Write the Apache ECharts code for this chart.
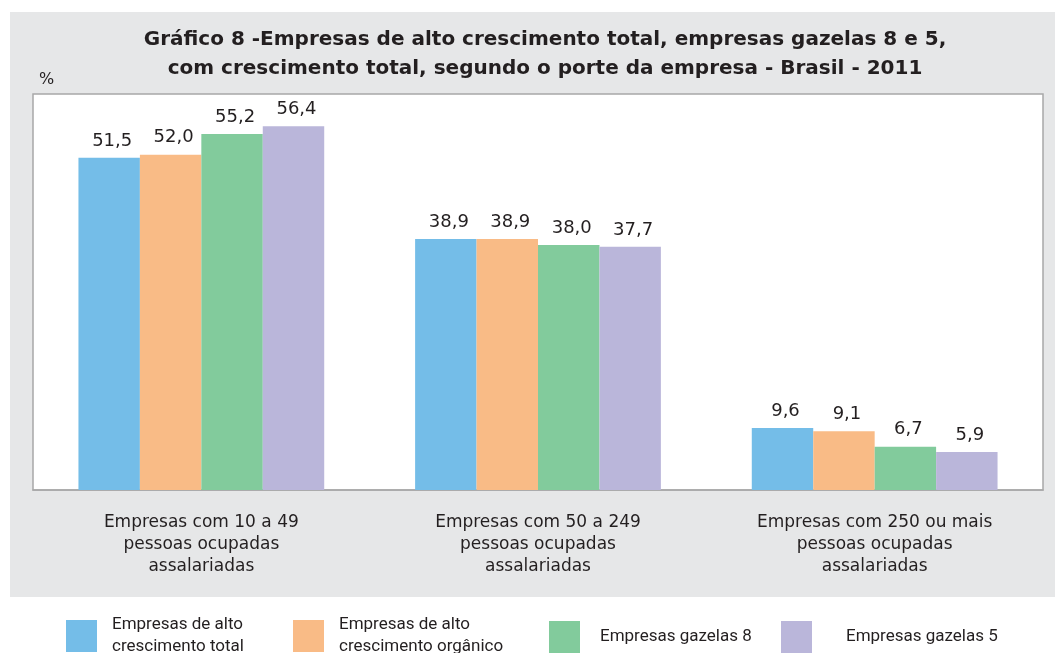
<!DOCTYPE html>
<html>
<head>
<meta charset="utf-8">
<script src="https://cdn.jsdelivr.net/npm/echarts@6/dist/echarts.min.js"></script>
<style>
  html, body { margin: 0; padding: 0; background: #fff; }
  #chart { width: 1055px; height: 653px; }
</style>
</head>
<body>
<div id="chart"></div>
<script>
  // categorias (porte da empresa)
  var categories = [
    'Empresas com 10 a 49\npessoas ocupadas\nassalariadas',
    'Empresas com 50 a 249\npessoas ocupadas\nassalariadas',
    'Empresas com 250 ou mais\npessoas ocupadas\nassalariadas'
  ];
  var seriesNames = [
    'Empresas de alto\ncrescimento total',
    'Empresas de alto\ncrescimento orgânico',
    'Empresas gazelas 8',
    'Empresas gazelas 5'
  ];
  var altoTotal = [51.5, 38.9, 9.6];
  var altoOrganico = [52.0, 38.9, 9.1];
  var gazelas8 = [55.2, 38.0, 6.7];
  var gazelas5 = [56.4, 37.7, 5.9];

  var colors = ['#74bde8', '#f9bb86', '#82cb9c', '#bab6da'];
  var values = [altoTotal, altoOrganico, gazelas8, gazelas5];
  var legendLeft = [66, 293, 549, 781];
  var legendTop = [614, 614, 621, 621];
  var legendTextGap = [10, 10, 15, 29];
  var txt = '#231f20';
  var font = '"DejaVu Sans", sans-serif';

  var chart = echarts.init(document.getElementById('chart'));

  var series = values.map(function (v, i) {
    return {
      name: seriesNames[i],
      type: 'bar',
      data: v,
      barGap: '0%',
      barCategoryGap: '27%',
      itemStyle: { color: colors[i] },
      label: {
        show: true,
        position: 'top',
        distance: 8,
        offset: [3, 0],
        fontSize: 18,
        color: txt,
        fontFamily: font,
        formatter: function (p) {
          return p.value.toFixed(1).replace('.', ',');
        }
      }
    };
  });

  var legends = seriesNames.map(function (n, i) {
    return {
      data: [n],
      left: legendLeft[i],
      top: legendTop[i],
      padding: 0,
      itemWidth: 31,
      itemHeight: 32,
      itemGap: 0,
      icon: 'rect',
      selectedMode: false,
      textStyle: {
        fontSize: 17,
        color: txt,
        fontFamily: 'Roboto, sans-serif',
        lineHeight: 22,
        padding: [0, 0, 0, legendTextGap[i]]
      }
    };
  });

  chart.setOption({
    animation: false,
    color: colors,
    graphic: [{
      type: 'rect',
      z: -10,
      shape: { x: 10, y: 12, width: 1045, height: 585 },
      style: { fill: '#e6e7e8' }
    }],
    title: [{
      text: 'Gráfico 8 -Empresas de alto crescimento total, empresas gazelas 8 e 5,\ncom crescimento total, segundo o porte da empresa - Brasil - 2011',
      left: 540,
      top: 20,
      textAlign: 'center',
      textStyle: {
        fontSize: 20,
        fontWeight: 'bold',
        color: txt,
        lineHeight: 29,
        fontFamily: font
      }
    }, {
      text: '%',
      left: 34,
      top: 67,
      textStyle: { fontSize: 16, fontWeight: 'normal', color: txt, fontFamily: font }
    }],
    legend: legends,
    grid: {
      left: 33,
      right: 12,
      top: 94,
      bottom: 163,
      show: true,
      backgroundColor: '#ffffff',
      borderColor: '#a8a8a8',
      borderWidth: 1.5,
      containLabel: false
    },
    xAxis: {
      type: 'category',
      data: categories,
      axisLine: { show: true, lineStyle: { color: '#a8a8a8', width: 1.5 } },
      axisTick: { show: false },
      axisLabel: {
        margin: 22,
        fontSize: 17,
        lineHeight: 22,
        color: txt,
        fontFamily: font,
        interval: 0
      }
    },
    yAxis: {
      type: 'value',
      min: 0,
      max: 61.4,
      show: false,
      splitLine: { show: false }
    },
    series: series
  });
</script>
</body>
</html>
